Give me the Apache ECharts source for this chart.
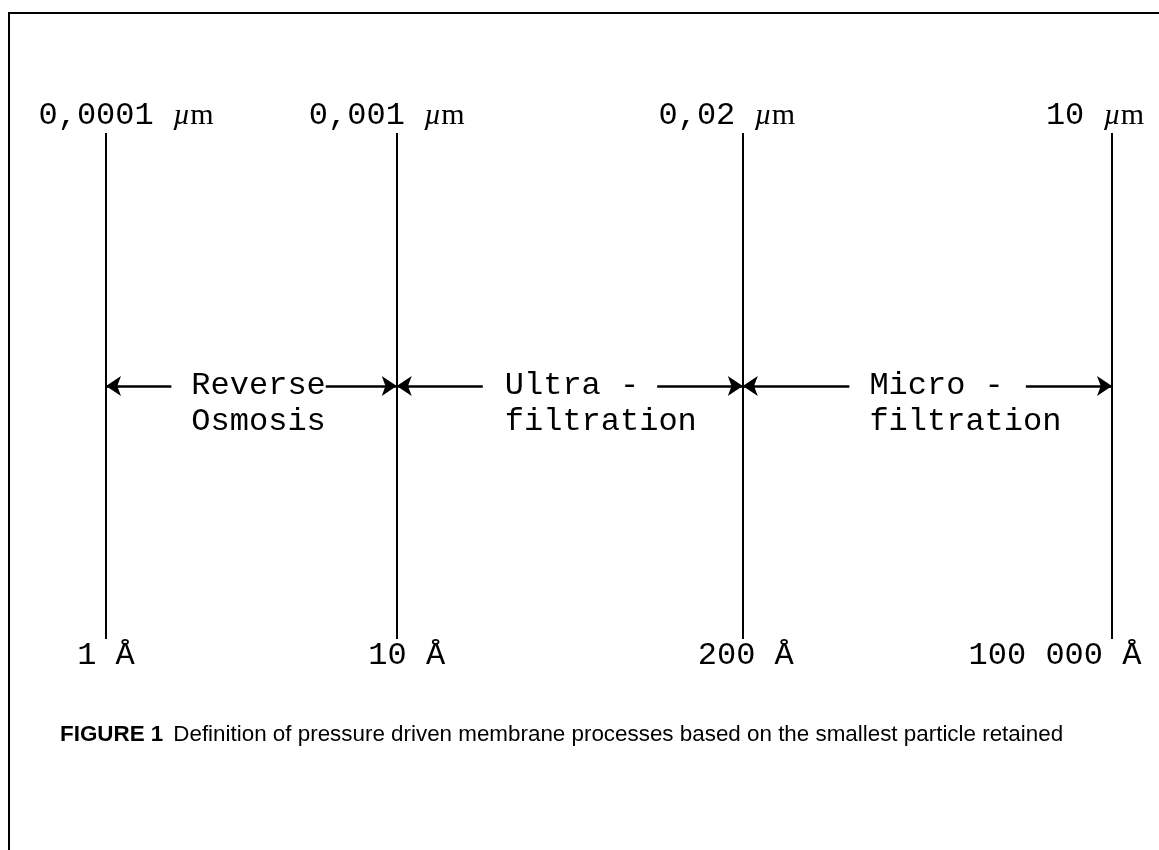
<!DOCTYPE html>
<html>
<head>
<meta charset="utf-8">
<title>Membrane processes</title>
<script src="https://cdn.jsdelivr.net/npm/echarts@6.0.0/dist/echarts.min.js"></script>
<style>
	html, body {margin: 0; padding: 0; background: #fff;}
	#chart {width: 1159px; height: 850px;}
</style>
</head>
<body>
<div id="chart"></div>
<script>
// boundaries on the schematic size scale (not to scale in the original)
let boundaryPos = [0, 28.9, 63.3, 100];
// pore size at each boundary
let sizeMicron = ['0,0001', '0,001', '0,02', '10'];
let sizeAngstrom = ['1 Å', '10 Å', '200 Å', '100 000 Å'];
// processes between two boundaries
let processTop = ['Reverse', 'Ultra -', 'Micro -'];
let processBottom = ['Osmosis', 'filtration', 'filtration'];
let caption = 'Definition of pressure driven membrane processes based on the smallest particle retained';

// label tuning (pixels)
let topLabelShift = [20, -10, -16, -17];
let bottomLabelShift = [0, 10, 3, -57];
let processShift = [-60, -65, -58];
let processGap = [[20, 0], [22, 18], [20, 22]];

let mono = '"Liberation Mono", "Courier New", monospace';
let serif = '"Liberation Serif", "Times New Roman", serif';
let sans = '"Liberation Sans", Arial, sans-serif';

let chart = echarts.init(document.getElementById('chart'));

let boundaryLines = boundaryPos.map(function (x) {
	return {coords: [[x, 0], [x, 1]]};
});
let arrowLines = [];
for (let i = 0; i < boundaryPos.length - 1; i++) {
	arrowLines.push({coords: [[boundaryPos[i], 0.5], [boundaryPos[i + 1], 0.5]]});
}

let topLabels = boundaryPos.map(function (x, i) {
	return {
		value: [x, 1],
		label: {
			formatter: '{n|' + sizeMicron[i] + ' }{u|µ}{m|m}',
			offset: [topLabelShift[i], 0]
		}
	};
});
let bottomLabels = boundaryPos.map(function (x, i) {
	return {
		value: [x, 0],
		label: {
			formatter: sizeAngstrom[i],
			offset: [bottomLabelShift[i], 0]
		}
	};
});
let processLabels = processTop.map(function (t, i) {
	let gap = processGap[i];
	return {
		value: [(boundaryPos[i] + boundaryPos[i + 1]) / 2, 0.5],
		label: {
			formatter: '{a|' + t + '}\n{b|' + processBottom[i] + '}',
			offset: [processShift[i] - gap[0], 18],
			rich: {
				a: {fontFamily: mono, fontSize: 32, lineHeight: 36, color: '#000', backgroundColor: '#fff', padding: [0, gap[1], 0, gap[0]]},
				b: {fontFamily: mono, fontSize: 32, lineHeight: 36, color: '#000', padding: [0, 0, 0, gap[0]]}
			}
		}
	};
});

chart.setOption({
	animation: false,
	backgroundColor: '#fff',
	title: {
		text: '{b|FIGURE 1}  {r|' + caption + '}',
		left: 55,
		top: 719,
		textStyle: {
			fontWeight: 'normal',
			rich: {
				b: {fontFamily: sans, fontSize: 22.4, fontWeight: 'bold', color: '#000'},
				r: {fontFamily: sans, fontSize: 22.4, fontWeight: 'normal', color: '#000'}
			}
		}
	},
	graphic: [{
		type: 'rect',
		shape: {x: 9, y: 13, width: 1400, height: 1000},
		style: {fill: 'none', stroke: '#000', lineWidth: 2}
	}],
	grid: {left: 106, right: 47, top: 133, bottom: 211},
	xAxis: {type: 'value', min: 0, max: 100, show: false},
	yAxis: {type: 'value', min: 0, max: 1, show: false},
	series: [
		{
			type: 'lines',
			coordinateSystem: 'cartesian2d',
			z: 2,
			symbol: 'none',
			lineStyle: {color: '#000', width: 2, opacity: 1},
			data: boundaryLines
		},
		{
			type: 'lines',
			coordinateSystem: 'cartesian2d',
			z: 3,
			symbol: ['arrow', 'arrow'],
			symbolSize: 15,
			lineStyle: {color: '#000', width: 2.5, opacity: 1},
			data: arrowLines
		},
		{
			type: 'scatter',
			z: 5,
			symbolSize: 0,
			silent: true,
			itemStyle: {opacity: 1},
			label: {
				show: true,
				position: 'top',
				distance: 1,
				align: 'center',
				color: '#000',
				rich: {
					n: {fontFamily: mono, fontSize: 32, lineHeight: 32, color: '#000'},
					u: {fontFamily: serif, fontStyle: 'italic', fontSize: 30, lineHeight: 32, color: '#000'},
					m: {fontFamily: serif, fontSize: 30, lineHeight: 32, color: '#000'}
				}
			},
			data: topLabels
		},
		{
			type: 'scatter',
			z: 5,
			symbolSize: 0,
			silent: true,
			itemStyle: {opacity: 1},
			label: {
				show: true,
				position: 'bottom',
				distance: 1,
				align: 'center',
				fontFamily: mono,
				fontSize: 32,
				lineHeight: 32,
				color: '#000'
			},
			data: bottomLabels
		},
		{
			type: 'scatter',
			z: 6,
			symbolSize: 0,
			silent: true,
			itemStyle: {opacity: 1},
			label: {
				show: true,
				position: 'inside',
				align: 'left',
				verticalAlign: 'middle',
				color: '#000'
			},
			data: processLabels
		}
	]
});
</script>
</body>
</html>
